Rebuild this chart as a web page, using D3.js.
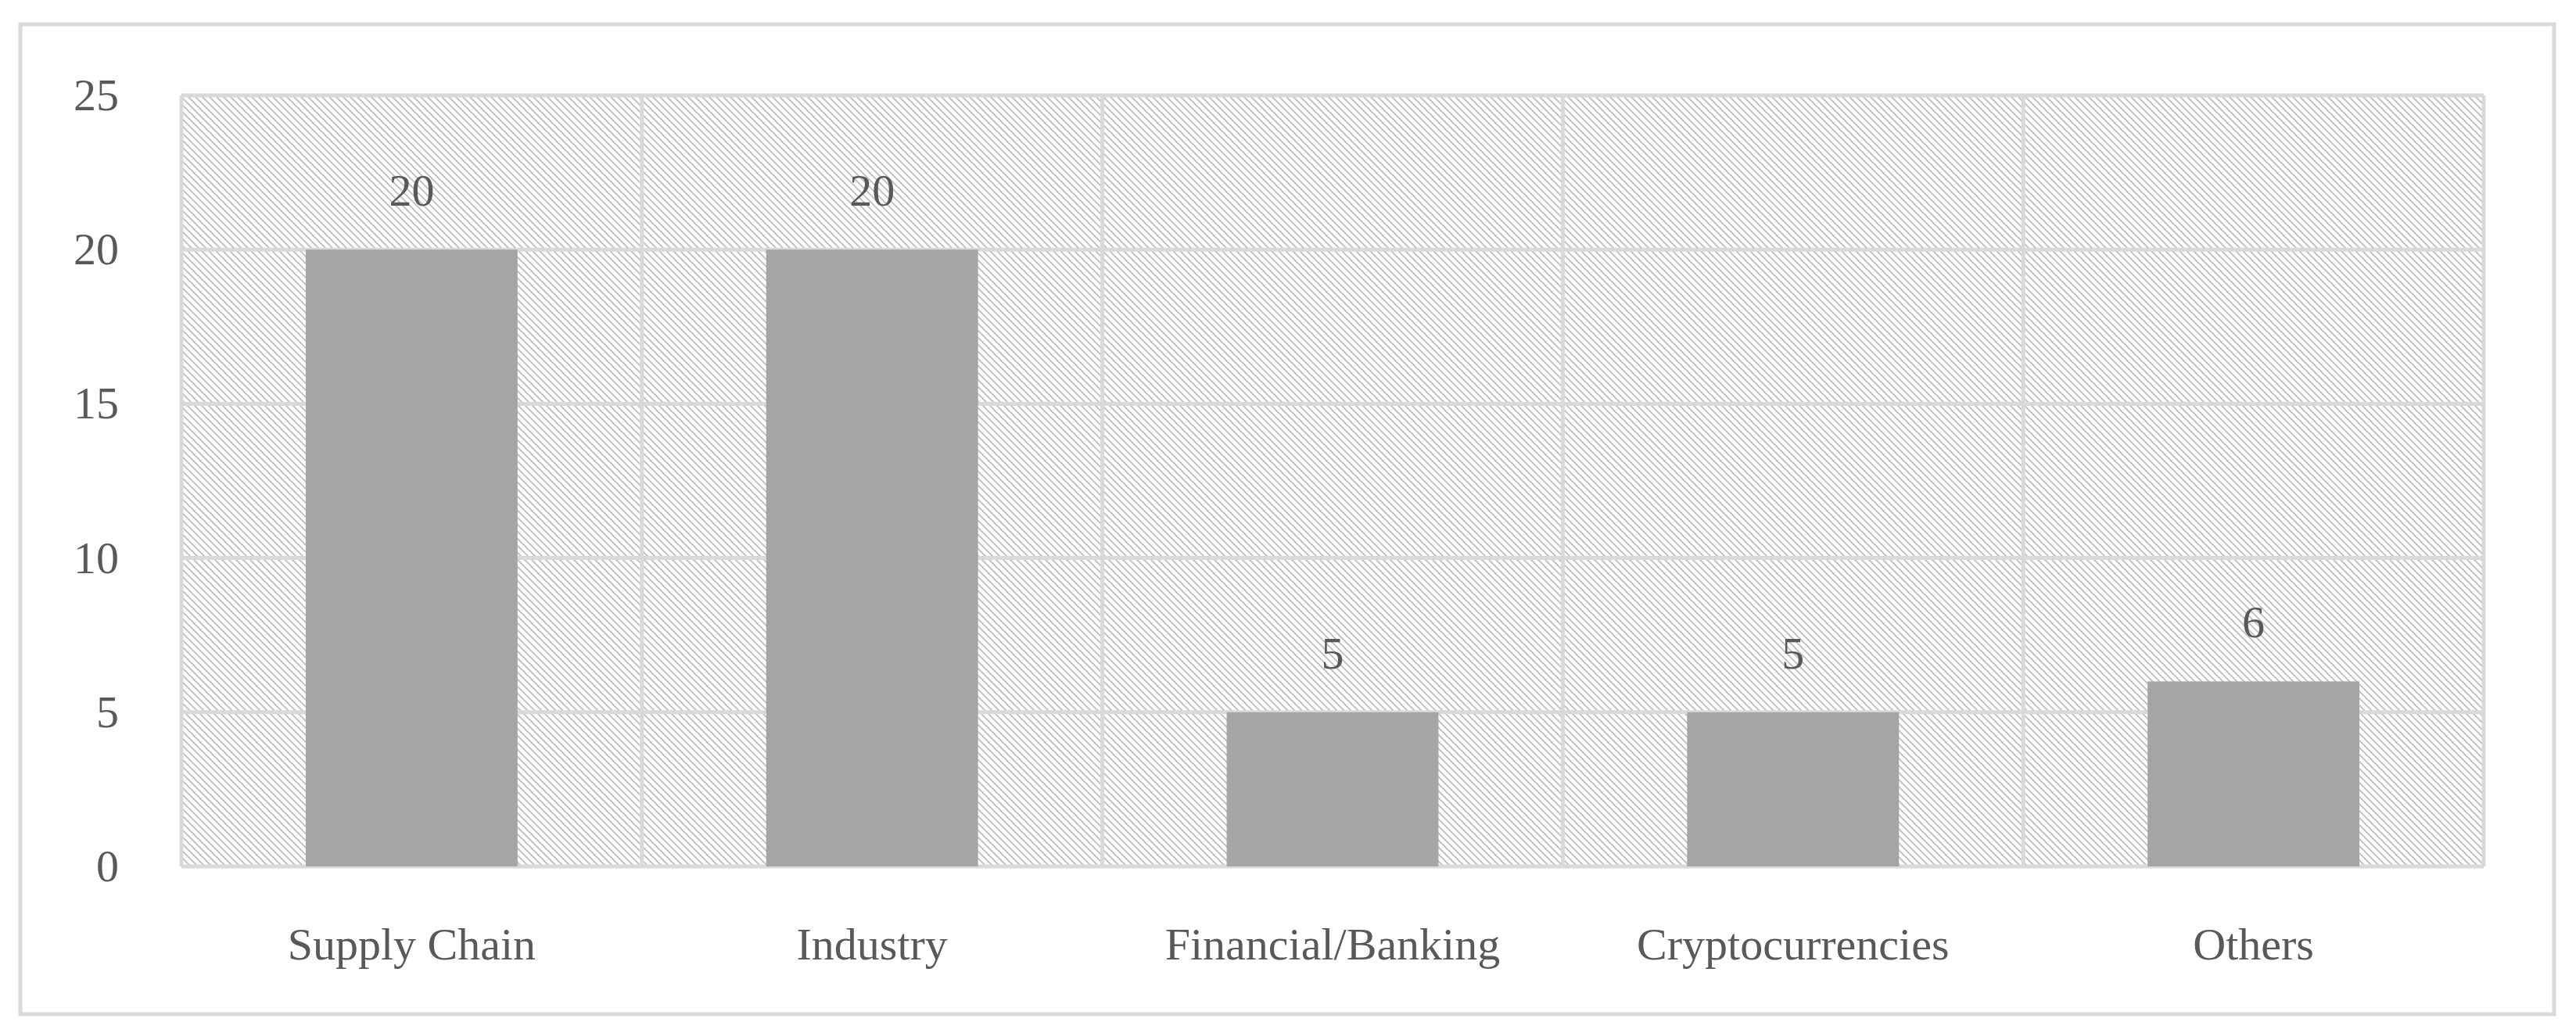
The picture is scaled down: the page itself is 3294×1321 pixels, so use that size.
<!DOCTYPE html>
<html>
<head>
<meta charset="utf-8">
<script src="https://cdn.jsdelivr.net/npm/d3@7"></script>
<style>
  body { margin: 0; background: #fff; }
  text { font-family: "Liberation Serif", "DejaVu Serif", serif; fill: #595959; }
</style>
</head>
<body>
<svg id="chart" width="3294" height="1321"></svg>
<script>
var categories = ["Supply Chain", "Industry", "Financial/Banking", "Cryptocurrencies", "Others"];
var counts = [20, 20, 5, 5, 6];
var yTicks = [0, 5, 10, 15, 20, 25];

var W = 3294, H = 1321;
var margin = {left: 232, right: W - 3176, top: 122, bottom: H - 1108};
var svg = d3.select("#chart");

// hatch fill for the plot background
var defs = svg.append("defs");
var pat = defs.append("pattern")
    .attr("id", "hatch")
    .attr("patternUnits", "userSpaceOnUse")
    .attr("width", 9).attr("height", 9);
pat.append("path")
    .attr("d", "M0,0 L9,9 M-1,8 L1,10 M8,-1 L10,1")
    .attr("stroke", "#c4c4c4")
    .attr("stroke-width", 2);

// outer frame
svg.append("rect")
    .attr("x", 26).attr("y", 31)
    .attr("width", 3240).attr("height", 1266)
    .attr("fill", "#fff")
    .attr("stroke", "#d9d9d9")
    .attr("stroke-width", 5);

var x = d3.scaleBand()
    .domain(categories)
    .range([margin.left, W - margin.right])
    .paddingInner(0).paddingOuter(0);

var y = d3.scaleLinear()
    .domain([0, 25])
    .range([H - margin.bottom, margin.top]);

svg.append("rect")
    .attr("x", margin.left).attr("y", margin.top)
    .attr("width", W - margin.left - margin.right)
    .attr("height", H - margin.top - margin.bottom)
    .attr("fill", "url(#hatch)");

// gridlines
svg.append("g").selectAll("line.h")
    .data(yTicks).enter().append("line")
    .attr("x1", margin.left).attr("x2", W - margin.right)
    .attr("y1", function(d){ return y(d); })
    .attr("y2", function(d){ return y(d); })
    .attr("stroke", "#d9d9d9").attr("stroke-width", 5);

var vx = categories.map(function(c){ return x(c); }).concat([W - margin.right]);
svg.append("g").selectAll("line.v")
    .data(vx).enter().append("line")
    .attr("x1", function(d){ return d; }).attr("x2", function(d){ return d; })
    .attr("y1", margin.top).attr("y2", H - margin.bottom)
    .attr("stroke", "#d9d9d9").attr("stroke-width", 5);

// bars
var bw = x.bandwidth() * 0.46;
svg.append("g").selectAll("rect")
    .data(counts).enter().append("rect")
    .attr("x", function(d, i){ return x(categories[i]) + (x.bandwidth() - bw) / 2; })
    .attr("y", function(d){ return y(d); })
    .attr("width", bw)
    .attr("height", function(d){ return y(0) - y(d); })
    .attr("fill", "#a5a5a5");

// value labels
svg.append("g").selectAll("text")
    .data(counts).enter().append("text")
    .attr("x", function(d, i){ return x(categories[i]) + x.bandwidth() / 2; })
    .attr("y", function(d){ return y(d) - 56; })
    .attr("text-anchor", "middle")
    .attr("font-size", 58)
    .text(function(d){ return d; });

// y axis labels
var yAxis = d3.axisLeft(y).tickValues(yTicks).tickSize(0).tickPadding(80);
var gy = svg.append("g").attr("transform", "translate(" + margin.left + ",0)").call(yAxis);
gy.select(".domain").remove();
gy.selectAll("text").attr("font-size", 58).style("fill", "#595959")
    .style("font-family", '"Liberation Serif", serif');

// category labels
var xAxis = d3.axisBottom(x).tickSize(0).tickPadding(78);
var gx = svg.append("g").attr("transform", "translate(0," + (H - margin.bottom) + ")").call(xAxis);
gx.select(".domain").remove();
gx.selectAll("text").attr("font-size", 58).style("fill", "#595959")
    .style("font-family", '"Liberation Serif", serif');
</script>
</body>
</html>
